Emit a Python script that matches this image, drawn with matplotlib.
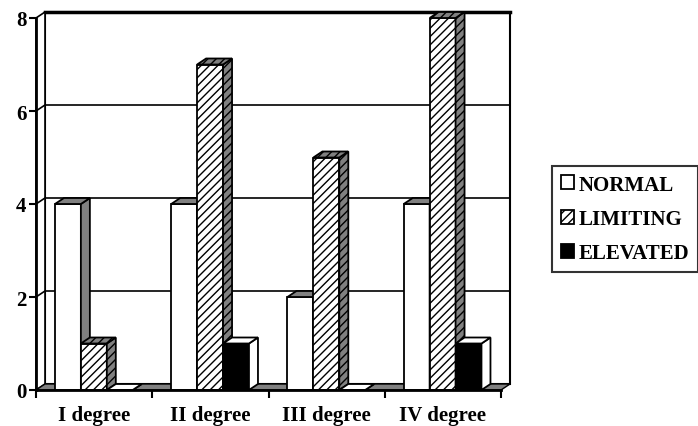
import matplotlib.pyplot as plt
from matplotlib.patches import Polygon, Patch

categories = ['I degree', 'II degree', 'III degree', 'IV degree']
series = ['NORMAL', 'LIMITING', 'ELEVATED']
normal = [4, 4, 2, 4]
limiting = [1, 7, 5, 8]
elevated = [0, 1, 0, 1]

plt.rcParams['font.family'] = 'Liberation Serif'
plt.rcParams['font.weight'] = 'bold'
plt.rcParams['hatch.linewidth'] = 1.0

W, H = 698, 427
fig = plt.figure(figsize=(W / 100, H / 100), dpi=100)
ax = fig.add_axes([36 / W, 1 - 391 / H, 465 / W, 372 / H])
ncat = len(categories)
ytop = 8
ax.set_xlim(0, ncat)
ax.set_ylim(0, ytop)

# depth of the pseudo-3d box, pixels converted to data units
dx = 9 / 465 * ncat
dy = 6 / 372 * ytop

# back wall, side wall and floor
ax.add_patch(Polygon([(dx, dy), (ncat + dx, dy), (ncat + dx, ytop + dy), (dx, ytop + dy)],
                     fc='white', ec='black', lw=1.5, clip_on=False, zorder=0.5))
ax.plot([dx, ncat + dx], [ytop + dy, ytop + dy], c='black', lw=2.5, clip_on=False, zorder=0.6)
ax.add_patch(Polygon([(0, 0), (dx, dy), (dx, ytop + dy), (0, ytop)],
                     fc='white', ec='black', lw=1.2, clip_on=False, zorder=0.7))
for g in [2, 4, 6]:
    ax.plot([0, dx, ncat + dx], [g, g + dy, g + dy], c='black', lw=1.2, clip_on=False, zorder=0.8)
ax.add_patch(Polygon([(0, 0), (ncat, 0), (ncat + dx, dy), (dx, dy)],
                     fc='#808080', ec='black', lw=1.0, clip_on=False, zorder=0.9))

styles = [
    dict(front='white', side='#808080', top='#808080', hatch=None),
    dict(front='white', side='#808080', top='#808080', hatch='////'),
    dict(front='black', side='white', top='white', hatch=None),
]
values = [normal, limiting, elevated]

bw = 0.223
start = 0.163
z = 3
for c in range(ncat):
    for s, vals in enumerate(values):
        st = styles[s]
        x0 = c + start + s * bw
        h = vals[c]
        ax.bar(x0, h, width=bw, align='edge', color=st['front'], edgecolor='black',
               hatch=st['hatch'], lw=1.3, zorder=z)
        ax.add_patch(Polygon([(x0 + bw, 0), (x0 + bw + dx, dy), (x0 + bw + dx, h + dy), (x0 + bw, h)],
                             fc=st['side'], ec='black', hatch=st['hatch'], lw=1.3,
                             clip_on=False, zorder=z + 0.1))
        ax.add_patch(Polygon([(x0, h), (x0 + bw, h), (x0 + bw + dx, h + dy), (x0 + dx, h + dy)],
                             fc=st['top'], ec='black', hatch=st['hatch'], lw=1.3,
                             clip_on=False, zorder=z + 0.2))
        z += 1

for side in ['top', 'right']:
    ax.spines[side].set_visible(False)
for side in ['left', 'bottom']:
    ax.spines[side].set_linewidth(2)
    ax.spines[side].set_zorder(50)

ax.set_yticks([0, 2, 4, 6, 8])
ax.tick_params(axis='y', length=5, width=1.5, labelsize=15, pad=2)
ax.set_xticks(range(ncat + 1))
ax.set_xticklabels([''] * (ncat + 1))
ax.set_xticks([c + 0.5 for c in range(ncat)], minor=True)
ax.set_xticklabels(categories, minor=True, fontsize=15)
ax.tick_params(axis='x', which='major', length=6, width=1.5)
ax.tick_params(axis='x', which='minor', length=0, pad=11)

handles = [
    Patch(fc='white', ec='black', lw=1.3, label=series[0]),
    Patch(fc='white', ec='black', lw=1.3, hatch='////', label=series[1]),
    Patch(fc='black', ec='black', lw=1.3, label=series[2]),
]
leg = fig.legend(handles=handles, loc='upper left', bbox_to_anchor=(552 / W, 1 - 167 / H),
                 fontsize=15, frameon=True, fancybox=False, edgecolor='black',
                 handlelength=0.65, handleheight=0.65, handletextpad=0.2,
                 labelspacing=0.68, borderpad=0.42, borderaxespad=0)
leg.get_frame().set_linewidth(1.5)

fig.savefig('out.png', dpi=100)
